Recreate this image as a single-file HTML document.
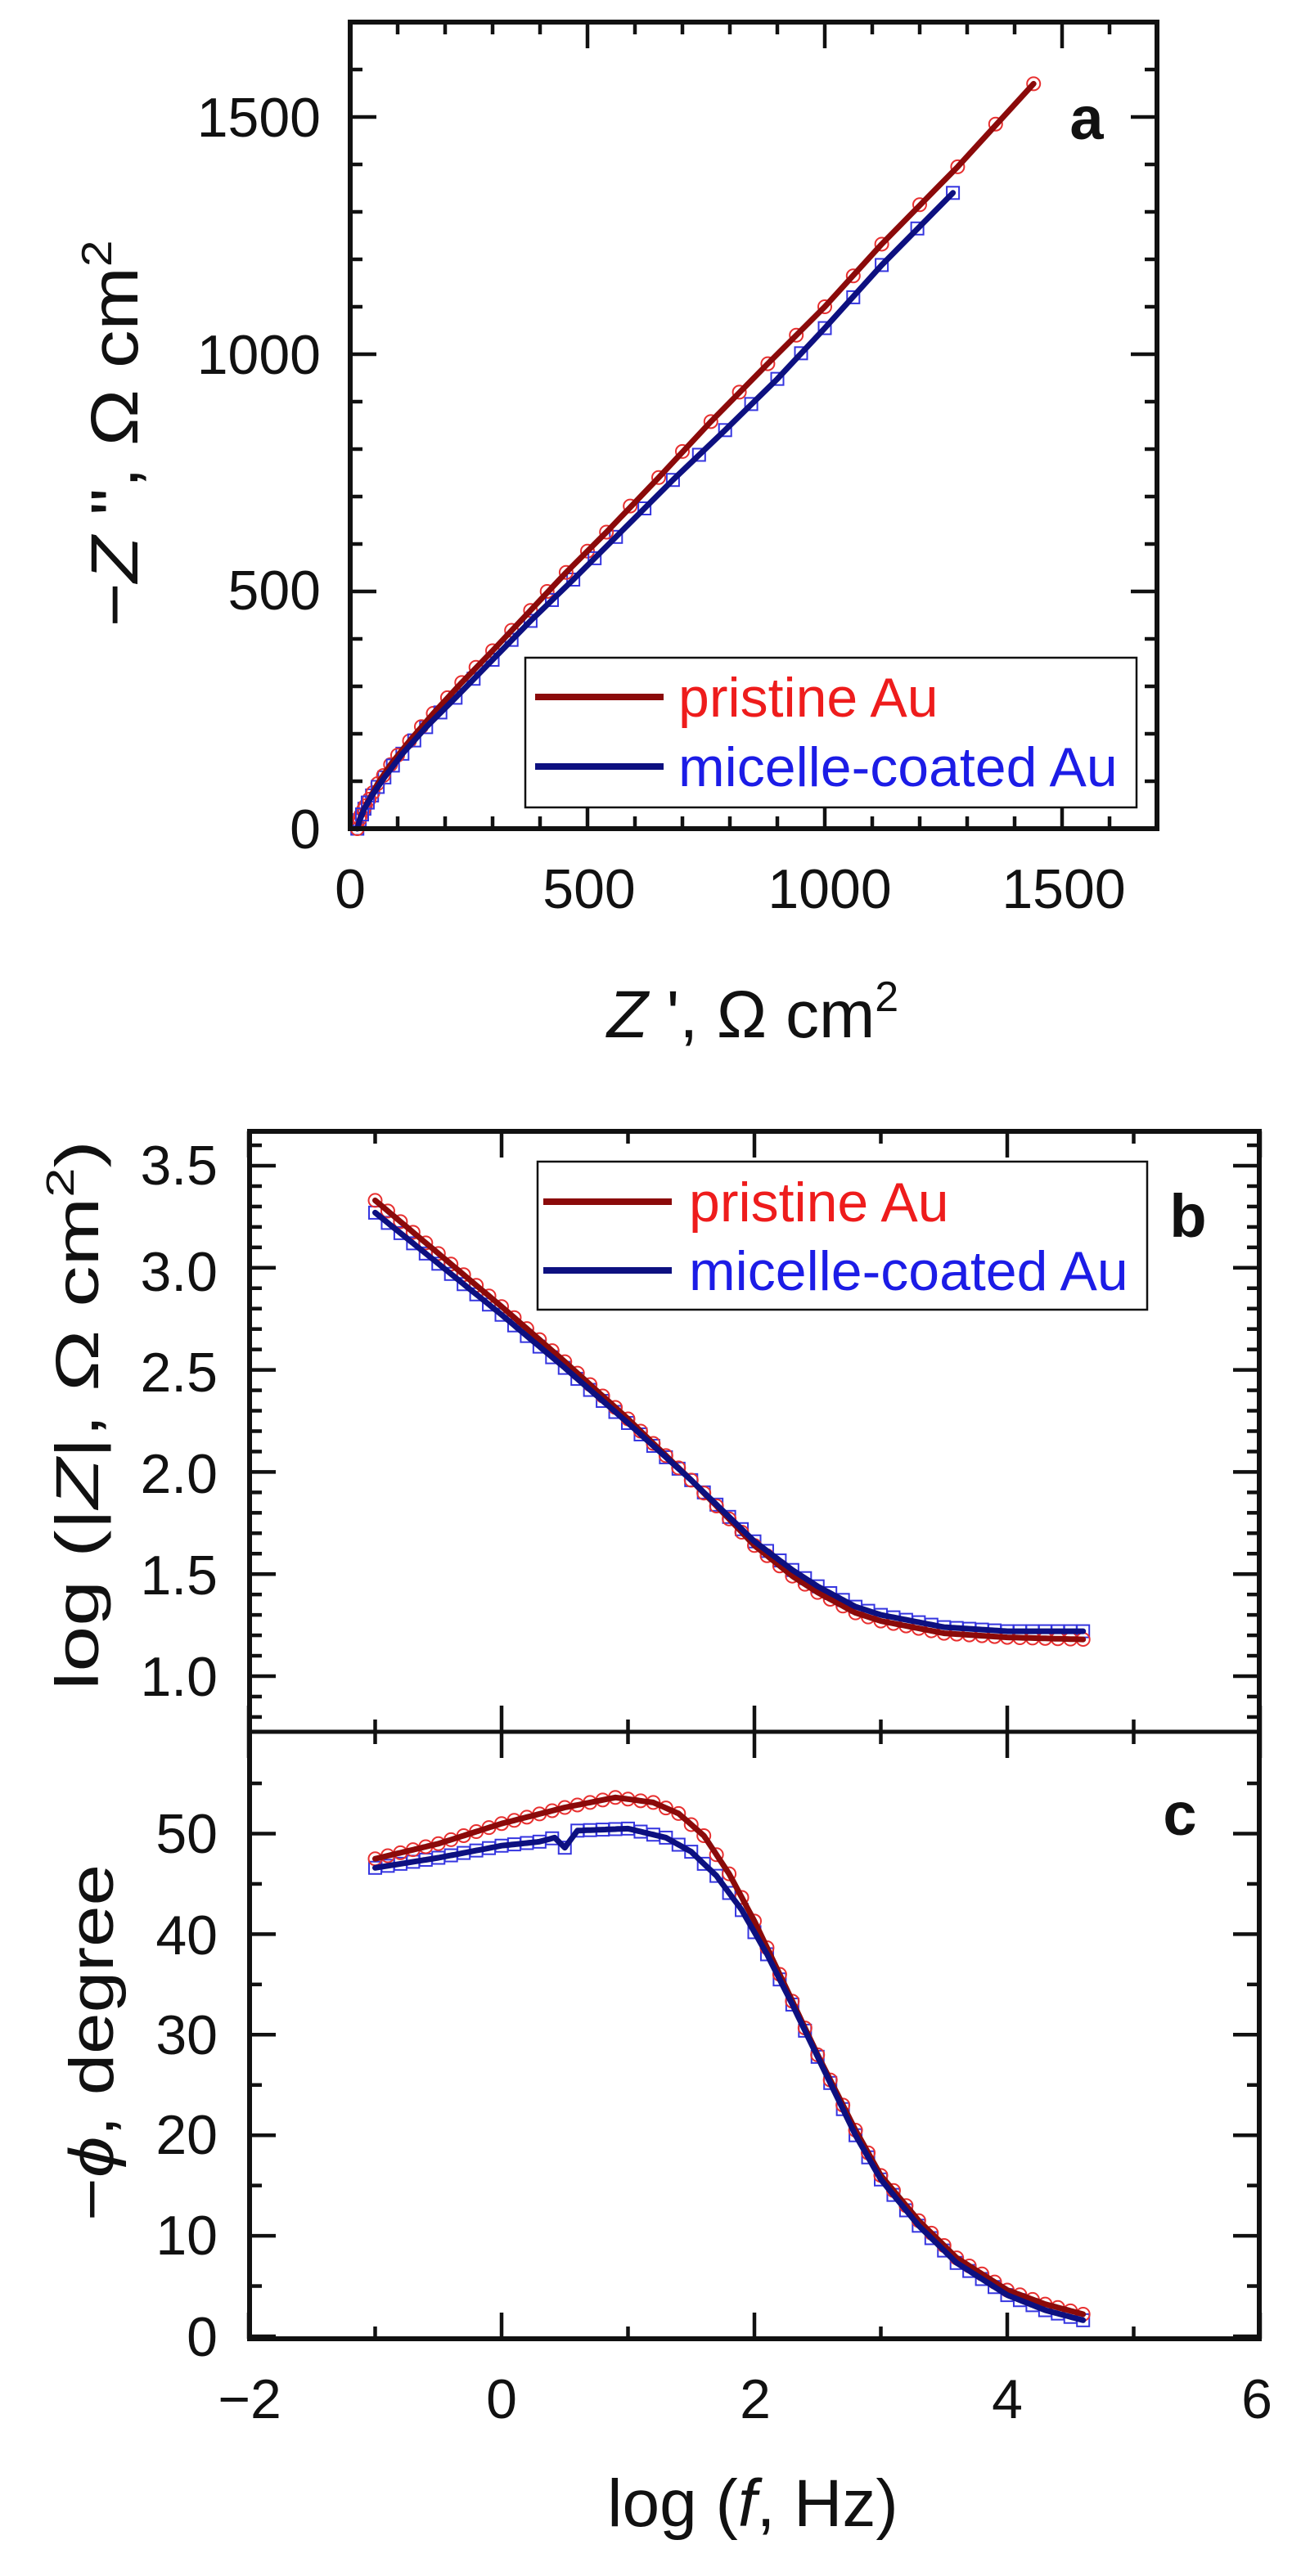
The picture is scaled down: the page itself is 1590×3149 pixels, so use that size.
<!DOCTYPE html>
<html><head><meta charset="utf-8">
<style>
html,body{margin:0;padding:0;background:#fff;}
svg{display:block;font-family:"Liberation Sans",Arial,sans-serif;}
</style></head>
<body>
<svg id="s" width="1590" height="3149" viewBox="0 0 1590 3149" xmlns="http://www.w3.org/2000/svg">
<rect width="1590" height="3149" fill="#fff"/>
<g id="plots"></g>
<!-- Panel a text -->
<g font-size="68" fill="#111">
<text x="392" y="1037" text-anchor="end">0</text>
<text x="392" y="745" text-anchor="end">500</text>
<text x="392" y="457" text-anchor="end">1000</text>
<text x="392" y="167" text-anchor="end">1500</text>
<text x="428" y="1110" text-anchor="middle">0</text>
<text x="720" y="1110" text-anchor="middle">500</text>
<text x="1014" y="1110" text-anchor="middle">1000</text>
<text x="1300" y="1110" text-anchor="middle">1500</text>
</g>
<text x="1328" y="170" font-size="74" font-weight="bold" text-anchor="middle" fill="#111">a</text>
<text transform="translate(168,530) rotate(-90)" font-size="82" text-anchor="middle" fill="#111" textLength="473" lengthAdjust="spacingAndGlyphs">−<tspan font-style="italic">Z</tspan> ", Ω cm<tspan font-size="52" dy="-32">2</tspan></text>
<text x="920" y="1268" font-size="82" text-anchor="middle" fill="#111"><tspan font-style="italic">Z</tspan> ', Ω cm<tspan font-size="52" dy="-32">2</tspan></text>
<rect x="642" y="804" width="747" height="183" fill="#fff" stroke="#111" stroke-width="2.5"/>
<line x1="654" y1="852" x2="811" y2="852" stroke="#8b0a0a" stroke-width="8"/>
<line x1="654" y1="937" x2="811" y2="937" stroke="#0d1080" stroke-width="8"/>
<text x="829" y="876" font-size="68" fill="#ee1c1c">pristine Au</text>
<text x="829" y="961" font-size="68" fill="#1c1ce6">micelle-coated Au</text>

<!-- Panel b/c text -->
<g font-size="68" fill="#111">
<text x="266" y="1448" text-anchor="end">3.5</text>
<text x="266" y="1578" text-anchor="end">3.0</text>
<text x="266" y="1701" text-anchor="end">2.5</text>
<text x="266" y="1825" text-anchor="end">2.0</text>
<text x="266" y="1949" text-anchor="end">1.5</text>
<text x="266" y="2073" text-anchor="end">1.0</text>
<text x="266" y="2265" text-anchor="end">50</text>
<text x="266" y="2389" text-anchor="end">40</text>
<text x="266" y="2511" text-anchor="end">30</text>
<text x="266" y="2633" text-anchor="end">20</text>
<text x="266" y="2756" text-anchor="end">10</text>
<text x="266" y="2880" text-anchor="end">0</text>
<text x="305" y="2956" text-anchor="middle">−2</text>
<text x="613" y="2956" text-anchor="middle">0</text>
<text x="923" y="2956" text-anchor="middle">2</text>
<text x="1231" y="2956" text-anchor="middle">4</text>
<text x="1536" y="2956" text-anchor="middle">6</text>
</g>
<text x="1452" y="1512" font-size="74" font-weight="bold" text-anchor="middle" fill="#111">b</text>
<text x="1442" y="2243" font-size="74" font-weight="bold" text-anchor="middle" fill="#111">c</text>
<text transform="translate(120,1730) rotate(-90)" font-size="74" text-anchor="middle" fill="#111" textLength="672" lengthAdjust="spacingAndGlyphs">log (|<tspan font-style="italic">Z</tspan>|, Ω cm<tspan font-size="48" dy="-30">2</tspan><tspan dy="30">)</tspan></text>
<text transform="translate(138,2497) rotate(-90)" font-size="76" text-anchor="middle" fill="#111" textLength="436" lengthAdjust="spacingAndGlyphs">−<tspan font-style="italic">ϕ</tspan>, degree</text>
<text x="920" y="3088" font-size="82" text-anchor="middle" fill="#111">log (<tspan font-style="italic">f</tspan>, Hz)</text>
<rect x="657" y="1420" width="745" height="181" fill="#fff" stroke="#111" stroke-width="2.5"/>
<line x1="664" y1="1469" x2="821" y2="1469" stroke="#8b0a0a" stroke-width="8"/>
<line x1="664" y1="1553" x2="821" y2="1553" stroke="#0d1080" stroke-width="8"/>
<text x="842" y="1493" font-size="68" fill="#ee1c1c">pristine Au</text>
<text x="842" y="1577" font-size="68" fill="#1c1ce6">micelle-coated Au</text>
</svg>
<script>
(function(){
var NS="http://www.w3.org/2000/svg", g=document.getElementById('plots');
function el(t,a){var e=document.createElementNS(NS,t);for(var k in a)e.setAttribute(k,a[k]);g.appendChild(e);return e;}
function line(x1,y1,x2,y2,w){el('line',{x1:x1,y1:y1,x2:x2,y2:y2,stroke:'#111','stroke-width':w||5});}
var RL='#8b0a0a',BL='#0d1080',RM='#e83030',BM='#3535e0';
function interp(pts,x){for(var i=0;i<pts.length-1;i++){if(x<=pts[i+1][0]){var t=(x-pts[i][0])/(pts[i+1][0]-pts[i][0]);return pts[i][1]+t*(pts[i+1][1]-pts[i][1]);}}return pts[pts.length-1][1];}
function poly(pts,col){el('polyline',{points:pts.map(function(p){return p[0].toFixed(1)+','+p[1].toFixed(1)}).join(' '),fill:'none',stroke:col,'stroke-width':7,'stroke-linejoin':'round','stroke-linecap':'round'});}
function circ(x,y){el('circle',{cx:x,cy:y,r:8,fill:'none',stroke:RM,'stroke-width':2});}
function sq(x,y){el('rect',{x:x-7.5,y:y-7.5,width:15,height:15,fill:'none',stroke:BM,'stroke-width':2});}

// ---------- Panel a ----------
var L=428,R=1414,T=27,B=1013,k=0.58;
function ax(v){return L+v*k;} function ay(v){return B-v*k;}
var red=[[15,0],[20,20],[28,40],[40,62],[58,95],[85,135],[125,185],[175,243],[235,308],[300,375],[380,460],[455,540],[540,625],[650,740],[760,858],[880,980],[1000,1100],[1120,1232],[1280,1395],[1440,1570]];
var blu=[[15,0],[20,18],[30,42],[46,70],[72,108],[110,158],[160,214],[222,276],[300,356],[380,438],[470,525],[560,615],[680,735],[790,840],[900,948],[1000,1055],[1120,1188],[1270,1340]];
function dense(pts){var o=[];for(var i=0;i<pts.length;i++)o.push([ax(pts[i][0]),ay(pts[i][1])]);return o;}
var rp=dense(red),bp=dense(blu);
bp.forEach(function(p){sq(p[0],p[1]);});
rp.forEach(function(p){circ(p[0],p[1]);});
// extra markers near origin
[[22,28],[32,48],[48,76],[70,112],[100,155],[150,215],[205,276],[265,340],[340,418],[415,500],[500,585],[590,680],[700,795],[820,920],[940,1040],[1060,1165],[1200,1315],[1360,1485]].forEach(function(p){circ(ax(p[0]),ay(p[1]));});
[[25,30],[37,55],[58,88],[90,133],[135,186],[190,245],[260,316],[340,398],[425,482],[515,570],[620,675],[735,788],[845,895],[950,1002],[1060,1120],[1195,1265]].forEach(function(p){sq(ax(p[0]),ay(p[1]));});
poly(rp,RL); poly(bp,BL);
// frame & ticks a
for(var v=0;v<=1700;v+=100){var maj=v%500==0,len=maj?32:15,x=ax(v),y=ay(v);
 line(x,B,x,B-len,4.5);line(x,T,x,T+len,4.5);
 line(L,y,L+len,y,4.5);line(R,y,R-len,y,4.5);}
el('rect',{x:L,y:T,width:R-L,height:B-T,fill:'none',stroke:'#111','stroke-width':6});

// ---------- Panel b/c ----------
var L2=305,R2=1539,T2=1383,M2=2117,B2=2859;
function fx(v){return 613+(v)*154.5;}
function by(v){return 2049-(v-1)*249.6;}
function cy(v){return 2856-v*12.29;}
var rb=[[-1,3.33],[-0.5,3.07],[0,2.81],[0.5,2.54],[1,2.26],[1.5,1.96],[1.8,1.77],[2,1.64],[2.3,1.49],[2.5,1.41],[2.8,1.31],[3,1.27],[3.5,1.21],[4,1.19],[4.6,1.18]];
var bb=[[-1,3.27],[-0.5,3.02],[0,2.77],[0.5,2.51],[1,2.24],[1.5,1.96],[1.8,1.78],[2,1.66],[2.3,1.52],[2.5,1.44],[2.8,1.34],[3,1.30],[3.5,1.24],[4,1.22],[4.6,1.22]];
var rc=[[-1,47.5],[-0.5,49],[0,51],[0.5,52.6],[0.9,53.6],[1.2,53.1],[1.4,52],[1.6,49.8],[1.8,46],[2,41.3],[2.2,36],[2.5,28],[2.8,20.5],[3,16],[3.3,11.5],[3.6,7.8],[4,4.6],[4.3,3.2],[4.6,2.2]];
var bc=[[-1,46.6],[-0.5,47.6],[0,48.8],[0.3,49.2],[0.42,49.6],[0.5,48.6],[0.6,50.3],[1,50.5],[1.3,49.6],[1.5,48.2],[1.7,45.8],[1.9,42.4],[2.1,38],[2.3,33],[2.5,27.8],[2.8,20],[3,15.6],[3.3,11],[3.6,7.3],[4,4.1],[4.3,2.6],[4.6,1.6]];
function series(d,fy){var o=[];for(var x=-1;x<=4.6001;x+=0.02)o.push([fx(x),fy(interp(d,x))]);return o;}
function marks(d,fy,f){for(var x=-1;x<=4.6001;x+=0.1)f(fx(x),fy(interp(d,x)));}
marks(bb,by,sq);marks(rb,by,circ);
marks(bc,cy,sq);marks(rc,cy,circ);
poly(series(rb,by),RL);poly(series(bb,by),BL);
poly(series(rc,cy),RL);poly(series(bc,cy),BL);
// x ticks
for(var v=-2;v<=6;v++){var maj=v%2==0,len=maj?32:15,x=fx(v);
 line(x,T2,x,T2+len,4.5);line(x,B2,x,B2-len,4.5);
 line(x,M2-len,x,M2+len,4.5);}
// b y ticks
for(var i=0;i<=30;i++){var v=0.7+i*0.1;var y=by(v);if(y<T2+2||y>M2-2)continue;var maj=Math.abs(v*2-Math.round(v*2))<0.01,len=maj?32:15;
 line(L2,y,L2+len,y,4.5);line(R2,y,R2-len,y,4.5);}
// c y ticks
for(var v=0;v<=60;v+=5){var y=cy(v);if(y<M2+2)continue;var len=v%10==0?32:15;
 line(L2,y,L2+len,y,4.5);line(R2,y,R2-len,y,4.5);}
el('rect',{x:L2,y:T2,width:R2-L2,height:B2-T2,fill:'none',stroke:'#111','stroke-width':6});
line(L2,M2,R2,M2,5);
})();
</script>
</body></html>
